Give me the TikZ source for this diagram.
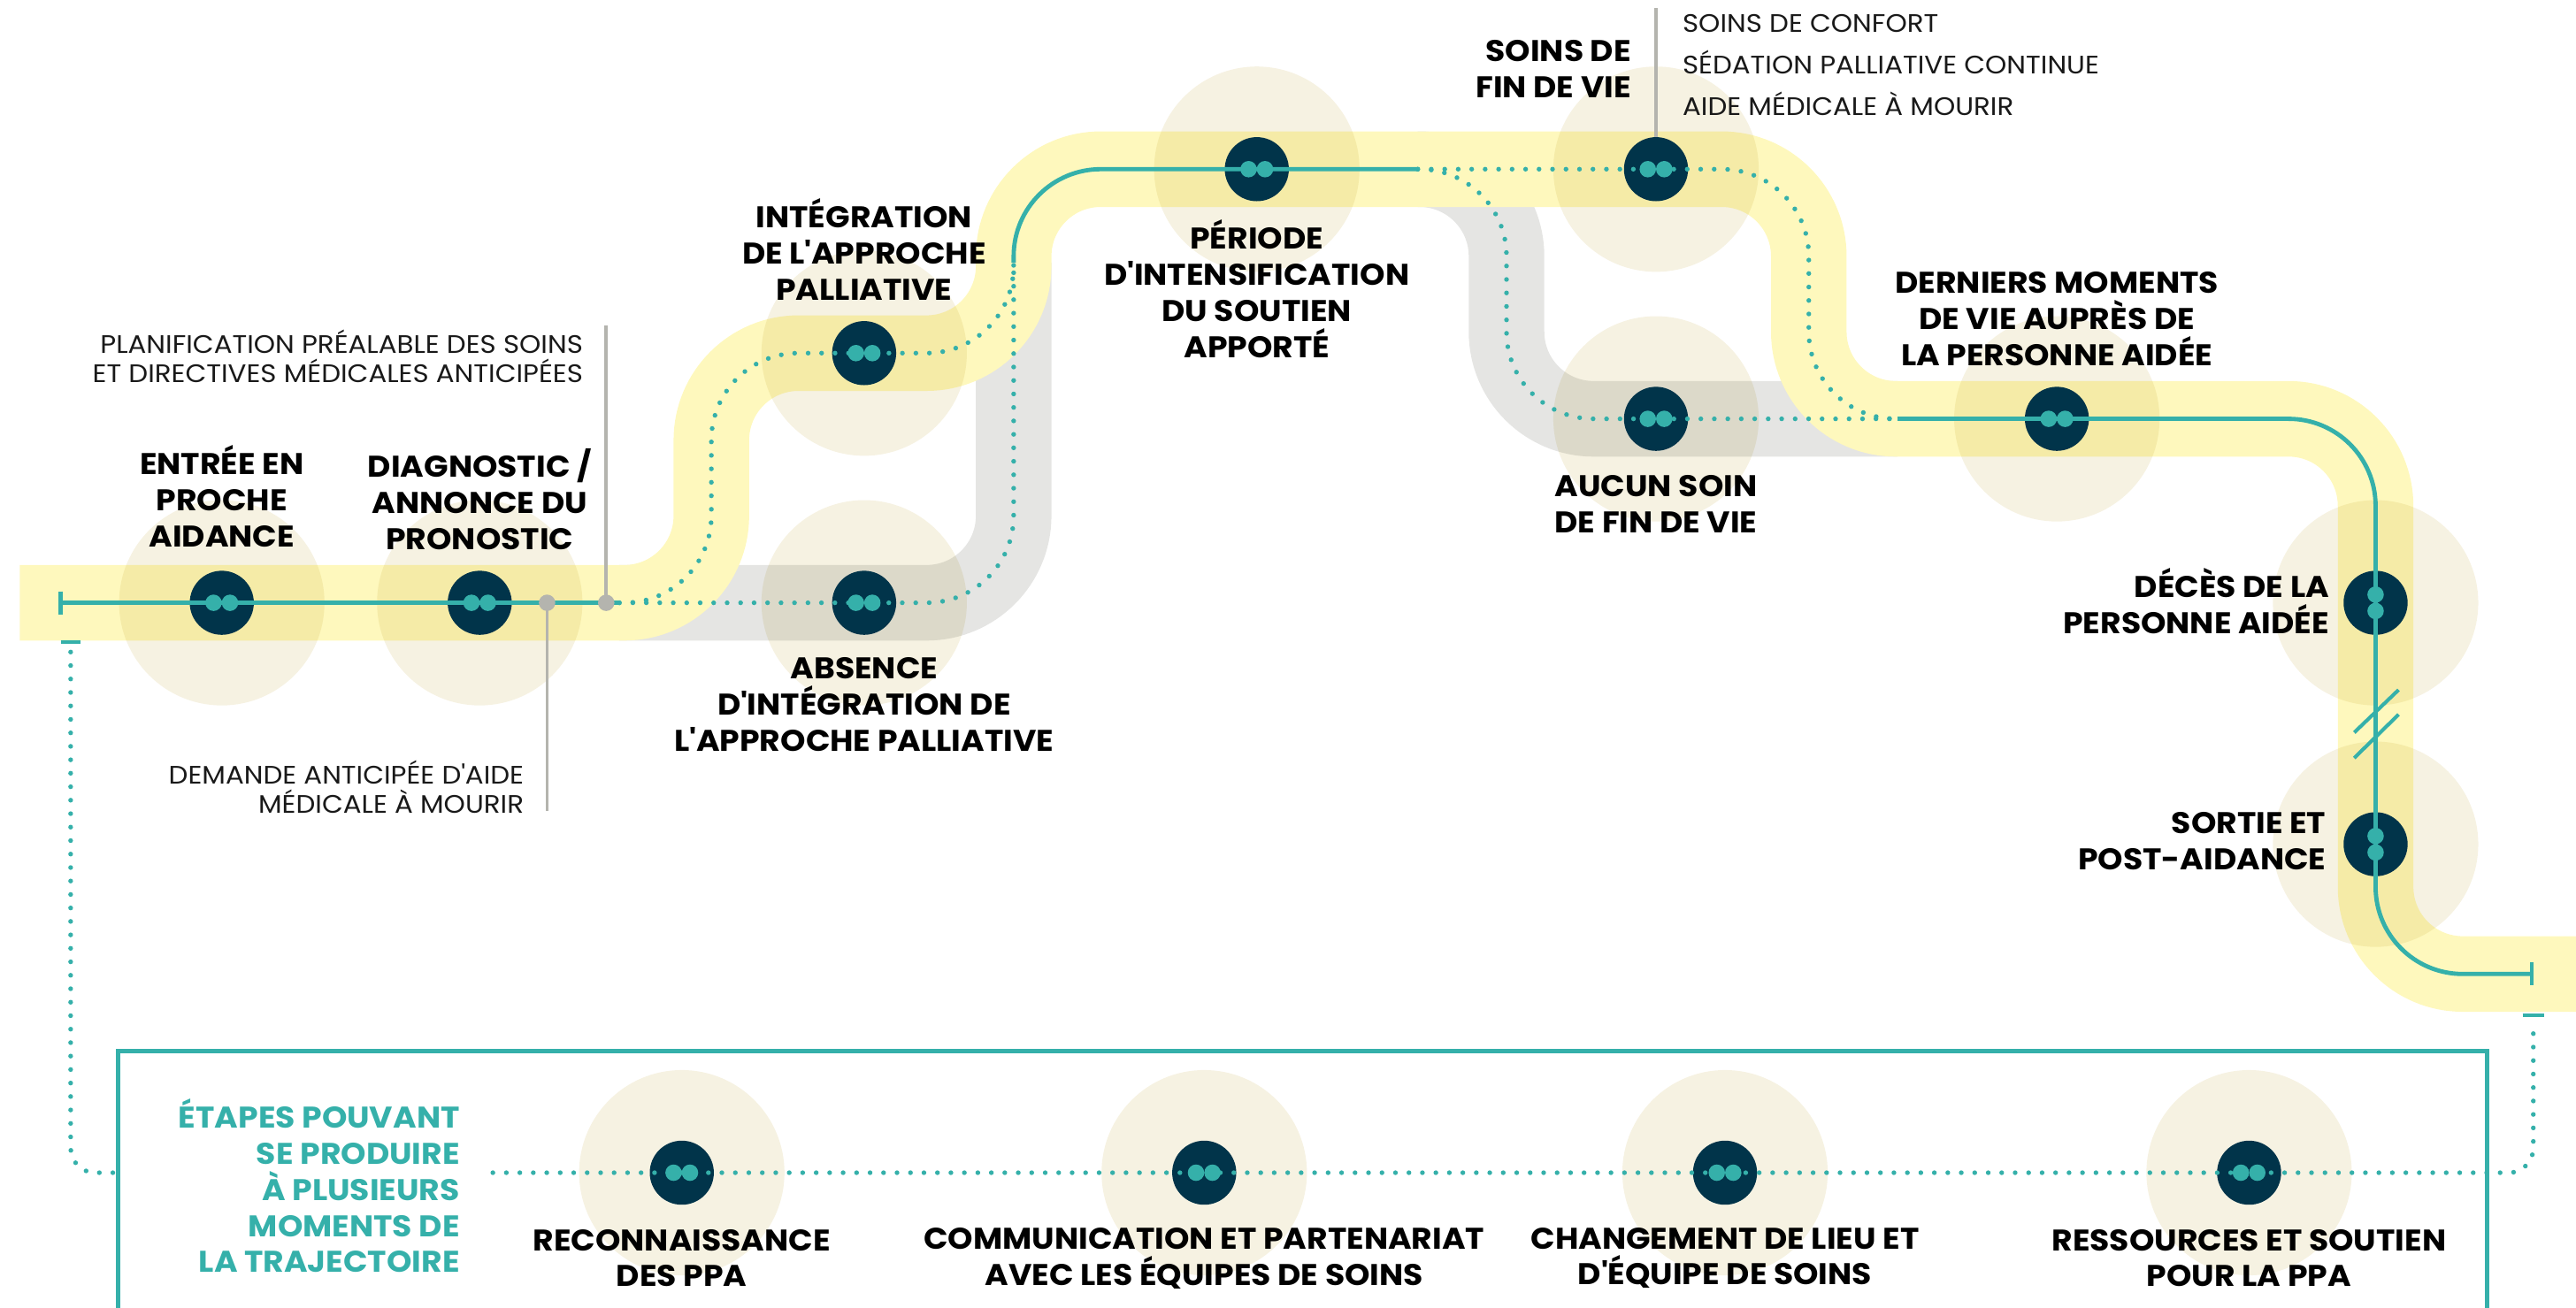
\documentclass[tikz,border=0pt]{standalone}
\usepackage{fontspec}
\setmainfont{Poppins}
\newfontfamily\stagefont{Poppins}[FakeStretch=1.07]
\newfontfamily\notefont{Poppins}[FakeStretch=1.08]
\usetikzlibrary{calc}
\definecolor{bandY}{HTML}{FEF8BD}
\definecolor{bandG}{HTML}{E5E5E3}
\definecolor{halo}{HTML}{F6F2E2}
\definecolor{navy}{HTML}{01344A}
\definecolor{teal}{HTML}{35B0AA}
\definecolor{lead}{HTML}{B4B4AE}
\newcommand{\ap}{\textquotesingle}
\tikzset{
  bandy/.style={draw=bandY,line width=46pt,rounded corners=53pt},
  bandg/.style={draw=bandG,line width=46pt,rounded corners=53pt},
  halodisc/.style={circle,fill=halo,draw=none,minimum size=125pt,inner sep=0pt},
  station/.style={circle,fill=navy,draw=none,minimum size=39pt,inner sep=0pt},
  twindot/.style={circle,fill=teal,draw=none,minimum size=10pt,inner sep=0pt},
  solidline/.style={draw=teal,line width=2.6pt,rounded corners=53pt},
  dotline/.style={draw=teal,line width=2.9pt,line cap=round,dash pattern=on 0pt off 8.2pt,rounded corners=53pt},
  leaderline/.style={draw=lead,line width=2pt},
  leaderdot/.style={circle,fill=lead,draw=none,minimum size=10pt,inner sep=0pt},
  stage/.style={inner sep=0pt,align=center,font=\stagefont\fontsize{18.2}{22}\selectfont\bfseries,text=black},
  note/.style={inner sep=0pt,font=\notefont\fontsize{15.4}{18}\selectfont,text=black!90},
}
\newcommand{\twinH}[1]{\node[twindot] at ($(#1.center)+(-5,0)$) {};\node[twindot] at ($(#1.center)+(5,0)$) {};}
\newcommand{\twinV}[1]{\node[twindot] at ($(#1.center)+(0,-5)$) {};\node[twindot] at ($(#1.center)+(0,5)$) {};}
\begin{document}
\begin{tikzpicture}[x=1pt,y=-1pt]
\useasboundingbox (0,0) rectangle (1568,795.9);
\clip (0,0) rectangle (1568,795.9);
% named points
\coordinate (bandstart) at (12,367);
\coordinate (c1) at (433,367);
\coordinate (c2) at (433,215);
\coordinate (c3) at (617,215);
\coordinate (c4) at (617,103);
\coordinate (c5) at (1101,103);
\coordinate (c6) at (1101,255);
\coordinate (c7) at (1446,255);
\coordinate (c8) at (1446,593);
\coordinate (bandend) at (1568,593);
\coordinate (g1) at (617,367);
\coordinate (g2) at (917,103);
\coordinate (g3) at (917,255);
\coordinate (split1) at (377,367);
\coordinate (join1) at (617,160);
\coordinate (split2) at (863,103);
\coordinate (join2) at (1155,255);
\coordinate (tickL) at (37,367);
\coordinate (tickR) at (1541,593);
% gray bands
\draw[bandg] (split1) -- (g1) -- (join1);
\draw[bandg] (split2) -- (g2) -- (g3) -- (join2);
% yellow band
\draw[bandy] (bandstart) -- (c1) -- (c2) -- (c3) -- (c4) -- (c5) -- (c6) -- (c7) -- (c8) -- (bandend);
% halos
\begin{scope}[blend mode=multiply]
\foreach \hx/\hy in {135/367,292/367,526/215,526/367,765/103,1008/103,1008/255,1252/255,1446/367,1446/514,415/714,733/714,1050/714,1369/714}
  \node[halodisc] at (\hx,\hy) {};
\end{scope}
% stations
\node[station] (entree) at (135,367) {};
\node[station] (diag) at (292,367) {};
\node[station] (integ) at (526,215) {};
\node[station] (absence) at (526,367) {};
\node[station] (periode) at (765,103) {};
\node[station] (soins) at (1008,103) {};
\node[station] (aucun) at (1008,255) {};
\node[station] (derniers) at (1252,255) {};
\node[station] (deces) at (1446,367) {};
\node[station] (sortie) at (1446,514) {};
\node[station] (recon) at (415,714) {};
\node[station] (comm) at (733,714) {};
\node[station] (chang) at (1050,714) {};
\node[station] (ress) at (1369,714) {};
% frame
\coordinate (fbl) at (72,800);
\coordinate (ftl) at (72,640);
\coordinate (ftr) at (1514,640);
\coordinate (fbr) at (1514,800);
\draw[teal,line width=2.6pt] (fbl) -- (ftl) -- (ftr) -- (fbr);
% leaders
\coordinate (l1top) at (369,198);
\coordinate (l1) at (369,367);
\coordinate (l2) at (333,367);
\coordinate (l2bot) at (333,494);
\coordinate (l3top) at (1008,5);
\draw[leaderline] (l1top) -- (l1);
\draw[leaderline] (l2) -- (l2bot);
\draw[leaderline] (l3top) -- (soins.north);
% teal solid
\draw[solidline] (tickL) -- (split1);
\draw[solidline] (join1) -- (c4) -- (split2);
\draw[solidline] (join2) -- (c7) -- (c8) -- (tickR);
\node[leaderdot] at (l1) {};
\node[leaderdot] at (l2) {};
% ticks
\draw[teal,line width=2.4pt] ($(tickL)+(0,-7)$) -- ($(tickL)+(0,7)$);
\draw[teal,line width=2.4pt] ($(tickR)+(0,-7)$) -- ($(tickR)+(0,7)$);
% slashes
\coordinate (s1a) at (1433,446);\coordinate (s1b) at (1460,420);
\coordinate (s2a) at (1433,461.5);\coordinate (s2b) at (1460,435);
\draw[teal,line width=2.2pt] (s1a) -- (s1b);
\draw[teal,line width=2.2pt] (s2a) -- (s2b);
% dotted
\draw[dotline] (split1) -- (c1) -- (c2) -- (c3) -- (join1);
\draw[dotline] (split1) -- (g1) -- (join1);
\draw[dotline] (split2) -- (c5) -- (c6) -- (join2);
\draw[dotline] (split2) -- (g2) -- (g3) -- (join2);
% bottom dotted
\coordinate (barL) at (43,391);
\coordinate (barR) at (1542,618);
\coordinate (dlA) at (43,397);
\coordinate (dlB) at (43,714);
\coordinate (dlC) at (72,714);
\coordinate (drA) at (300,714);
\coordinate (drB) at (1542,714);
\coordinate (drC) at (1542,624);
\draw[teal,line width=2.4pt] ($(barL)+(-6,0)$) -- ($(barL)+(6,0)$);
\draw[teal,line width=2.4pt] ($(barR)+(-6.5,0)$) -- ($(barR)+(6.5,0)$);
\draw[dotline,rounded corners=15pt] (dlA) -- (dlB) -- (dlC);
\draw[dotline,rounded corners=15pt] (drA) -- (drB) -- (drC);
% twin dots
\twinH{entree}\twinH{diag}\twinH{integ}\twinH{absence}\twinH{periode}\twinH{soins}\twinH{aucun}\twinH{derniers}
\twinV{deces}\twinV{sortie}
\twinH{recon}\twinH{comm}\twinH{chang}\twinH{ress}
% labels
\node[stage] (t1) at (135,302) {ENTRÉE EN\\PROCHE\\AIDANCE};
\node[stage] (t2) at (292,304) {DIAGNOSTIC /\\ANNONCE DU\\PRONOSTIC};
\node[stage] (t3) at (526,152) {INTÉGRATION\\DE L\ap APPROCHE\\PALLIATIVE};
\node[stage] (t4) at (526,429) {ABSENCE\\D\ap INTÉGRATION DE\\L\ap APPROCHE PALLIATIVE};
\node[stage] (t5) at (765,176) {PÉRIODE\\D\ap INTENSIFICATION\\DU SOUTIEN\\APPORTÉ};
\node[stage,align=right,anchor=east] (t6) at (993,42) {SOINS DE\\FIN DE VIE};
\node[stage] (t7) at (1008,307) {AUCUN SOIN\\DE FIN DE VIE};
\node[stage] (t8) at (1252,194) {DERNIERS MOMENTS\\DE VIE AUPRÈS DE\\LA PERSONNE AIDÉE};
\node[stage,align=right,anchor=east] (t9) at (1418,366) {DÉCÈS DE LA\\PERSONNE AIDÉE};
\node[stage,align=right,anchor=east] (t10) at (1416,512) {SORTIE ET\\POST-AIDANCE};
\node[stage] (t11) at (415,766) {RECONNAISSANCE\\DES PPA};
\node[stage] (t12) at (733,766) {COMMUNICATION ET PARTENARIAT\\AVEC LES ÉQUIPES DE SOINS};
\node[stage] (t13) at (1050,766) {CHANGEMENT DE LIEU ET\\D\ap ÉQUIPE DE SOINS};
\node[stage] (t14) at (1369,766) {RESSOURCES ET SOUTIEN\\POUR LA PPA};
\node[stage,align=right,anchor=east,text=teal] (t15) at (280,722) {ÉTAPES POUVANT\\SE PRODUIRE\\À PLUSIEURS\\MOMENTS DE\\LA TRAJECTOIRE};
\node[note,align=right,anchor=east] (n1) at (355,217) {PLANIFICATION PRÉALABLE DES SOINS\\ET DIRECTIVES MÉDICALES ANTICIPÉES};
\node[note,align=right,anchor=east] (n2) at (319,479) {DEMANDE ANTICIPÉE D\ap AIDE\\MÉDICALE À MOURIR};
\node[note,anchor=west] (n3) at (1024,14) {SOINS DE CONFORT};
\node[note,anchor=west] (n4) at (1024,38) {SÉDATION PALLIATIVE CONTINUE};
\node[note,anchor=west] (n5) at (1024,63) {AIDE MÉDICALE À MOURIR};
\end{tikzpicture}
\end{document}
